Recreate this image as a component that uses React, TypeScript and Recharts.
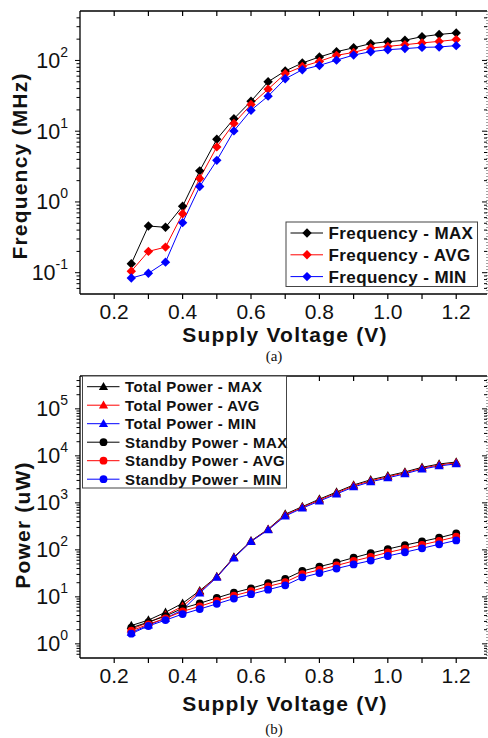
import React from 'react';
import { LineChart, Line, XAxis, YAxis } from 'recharts';

// supply voltage sweep (V)
const voltages = [0.25, 0.3, 0.35, 0.4, 0.45, 0.5, 0.55, 0.6, 0.65, 0.7, 0.75, 0.8, 0.85, 0.9, 0.95, 1.0, 1.05, 1.1, 1.15, 1.2];

// operating frequency (MHz)
const freqMax = [0.134, 0.457, 0.438, 0.87, 2.75, 7.7, 15, 26.5, 50, 71, 92, 112, 133, 151, 173, 184, 193, 217, 233, 245];
const freqAvg = [0.105, 0.2, 0.23, 0.68, 2.15, 6.0, 12.9, 23.8, 39.3, 65, 82, 97, 118, 130, 150, 158, 167, 177, 186, 197];
const freqMin = [0.084, 0.098, 0.141, 0.51, 1.65, 3.87, 10.1, 19.8, 31.3, 55, 74, 85, 101, 119, 133, 142, 147, 153, 155, 162];

// total power (uW)
const totalMax = [2.45, 3.2, 4.7, 7.3, 13.5, 27, 70, 155, 275, 575, 830, 1200, 1700, 2400, 3100, 3750, 4550, 5700, 6700, 7400];
const totalAvg = [2.05, 2.85, 4.1, 6.3, 12.8, 26.5, 68, 152, 270, 550, 800, 1150, 1620, 2300, 2950, 3600, 4350, 5450, 6400, 7100];
const totalMin = [1.75, 2.5, 3.5, 5.3, 12.0, 26, 67, 150, 265, 525, 770, 1090, 1540, 2180, 2800, 3400, 4150, 5200, 6100, 6750];

// standby power (uW)
const standbyMax = [2.2, 2.9, 3.9, 5.7, 7.3, 9.5, 12.3, 15.2, 19.5, 24, 35.5, 44, 54, 68, 85, 104, 126, 151, 181, 224];
const standbyAvg = [1.9, 2.6, 3.5, 4.9, 6.3, 8.2, 10.6, 13.2, 16.7, 20.5, 30.5, 37.5, 46.5, 58, 71, 88, 106, 128, 155, 190];
const standbyMin = [1.65, 2.4, 3.2, 4.3, 5.5, 7.1, 9.2, 11.4, 14.2, 17.6, 26, 32, 40, 49, 59, 74, 89, 108, 131, 159];

// axis ticks
const xTicks = [0.2, 0.3, 0.4, 0.5, 0.6, 0.7, 0.8, 0.9, 1.0, 1.1, 1.2];
const xTickLabels = ['0.2', '0.4', '0.6', '0.8', '1.0', '1.2'];
const freqDecades = [0.1, 1, 10, 100];
const powerDecades = [1, 10, 100, 1000, 10000, 100000];

const FONT = "'Liberation Sans', Arial, Helvetica, sans-serif";
const W = 488;
const H1 = 370;
const H2 = 368;
const X_DOMAIN: [number, number] = [0.1, 1.29];
const FREQ_DOMAIN: [number, number] = [0.05, 500];
const POWER_DOMAIN: [number, number] = [0.5, 500000];

type Shape = 'diamond' | 'triangle' | 'circle';
interface Series {
  key: string;
  name: string;
  color: string;
  shape: Shape;
  values: number[];
}

const freqSeries: Series[] = [
  { key: 'fmax', name: 'Frequency - MAX', color: '#000000', shape: 'diamond', values: freqMax },
  { key: 'favg', name: 'Frequency - AVG', color: '#ff0000', shape: 'diamond', values: freqAvg },
  { key: 'fmin', name: 'Frequency - MIN', color: '#0000ff', shape: 'diamond', values: freqMin },
];

const powerSeries: Series[] = [
  { key: 'tmax', name: 'Total Power - MAX', color: '#000000', shape: 'triangle', values: totalMax },
  { key: 'tavg', name: 'Total Power - AVG', color: '#ff0000', shape: 'triangle', values: totalAvg },
  { key: 'tmin', name: 'Total Power - MIN', color: '#0000ff', shape: 'triangle', values: totalMin },
  { key: 'smax', name: 'Standby Power - MAX', color: '#000000', shape: 'circle', values: standbyMax },
  { key: 'savg', name: 'Standby Power - AVG', color: '#ff0000', shape: 'circle', values: standbyAvg },
  { key: 'smin', name: 'Standby Power - MIN', color: '#0000ff', shape: 'circle', values: standbyMin },
];

const buildRows = (series: Series[]) =>
  voltages.map((v, i) => {
    const row: Record<string, number> = { v };
    series.forEach((s) => (row[s.key] = s.values[i]));
    return row;
  });

const freqRows = buildRows(freqSeries);
const powerRows = buildRows(powerSeries);

// log axis ticks: decades plus 2..9 minor ticks inside the domain
const logTicks = (domain: [number, number]) => {
  const out: number[] = [];
  const lo = Math.floor(Math.log10(domain[0]));
  const hi = Math.ceil(Math.log10(domain[1]));
  for (let e = lo; e <= hi; e++) {
    for (let k = 1; k <= 9; k++) {
      const t = k * Math.pow(10, e);
      if (t > domain[0] * 1.001 && t < domain[1] * 0.999) out.push(t);
    }
  }
  return out;
};

const isDecade = (v: number, decades: number[]) => decades.some((d) => Math.abs(v / d - 1) < 1e-6);

const Marker = ({ shape, cx, cy, color }: { shape: Shape; cx: number; cy: number; color: string }) => {
  if (shape === 'diamond') {
    return <polygon points={`${cx},${cy - 4.7} ${cx + 4.7},${cy} ${cx},${cy + 4.7} ${cx - 4.7},${cy}`} fill={color} />;
  }
  if (shape === 'triangle') {
    return <polygon points={`${cx},${cy - 4.8} ${cx + 4.6},${cy + 3.4} ${cx - 4.6},${cy + 3.4}`} fill={color} />;
  }
  return <circle cx={cx} cy={cy} r={3.9} fill={color} />;
};

const renderDot = (s: Series) => (props: any) => {
  const { cx, cy, index } = props;
  if (cx == null || cy == null) return <g key={`${s.key}-${index}`} />;
  return (
    <g key={`${s.key}-${index}`}>
      <Marker shape={s.shape} cx={cx} cy={cy} color={s.color} />
    </g>
  );
};

// bottom x ticks: outward marks, labels every 0.2
const BottomTick = (props: any) => {
  const { x, y, payload } = props;
  const v = payload.value as number;
  const label = xTickLabels.find((l) => Math.abs(parseFloat(l) - v) < 1e-6);
  return (
    <g>
      <line x1={x} y1={y} x2={x} y2={y + 5} stroke="#000" strokeWidth={1.2} />
      {label && (
        <text x={x} y={y + 25} textAnchor="middle" fontFamily={FONT} fontSize={21} fill="#111">
          {label}
        </text>
      )}
    </g>
  );
};

const TopTick = (props: any) => {
  const { x, y } = props;
  return <line x1={x} y1={y} x2={x} y2={y + 5} stroke="#000" strokeWidth={1.2} />;
};

const makeLeftTick = (decades: number[]) => (props: any) => {
  const { x, y, payload } = props;
  const v = payload.value as number;
  const major = isDecade(v, decades);
  const exp = Math.round(Math.log10(v));
  return (
    <g>
      <line x1={x - (major ? 5 : 3.5)} y1={y} x2={x} y2={y} stroke="#000" strokeWidth={1} />
      {major && (
        <text x={x - 12} y={y + 7.5} textAnchor="end" fontFamily={FONT} fontSize={21.5} fill="#111">
          <tspan>10</tspan>
          <tspan dy={-11} fontSize={14}>
            {exp}
          </tspan>
        </text>
      )}
    </g>
  );
};

const makeRightTick = (decades: number[]) => (props: any) => {
  const { x, y, payload } = props;
  const major = isDecade(payload.value as number, decades);
  return <line x1={x - (major ? 5 : 3)} y1={y} x2={x} y2={y} stroke="#000" strokeWidth={1} />;
};

const AXIS_LINE = { stroke: '#000', strokeWidth: 1.3 };

interface PanelProps {
  height: number;
  rows: Record<string, number>[];
  series: Series[];
  yDomain: [number, number];
  decades: number[];
  top: number;
  bottom: number;
}

// plot box: left edge at 80, right edge at 487, top/bottom from props
const Panel = ({ height, rows, series, yDomain, decades, top, bottom }: PanelProps) => {
  const yTicks = logTicks(yDomain);
  return (
    <LineChart width={W} height={height} data={rows} margin={{ top: top - 4, right: 0, bottom: bottom - 30, left: 30 }}>
      <XAxis
        dataKey="v"
        type="number"
        domain={X_DOMAIN}
        allowDataOverflow
        ticks={xTicks}
        interval={0}
        height={30}
        tickSize={0}
        tickMargin={0}
        tickLine={false}
        axisLine={AXIS_LINE}
        tick={BottomTick}
      />
      <XAxis
        xAxisId="top"
        orientation="top"
        dataKey="v"
        type="number"
        domain={X_DOMAIN}
        allowDataOverflow
        ticks={xTicks}
        interval={0}
        height={4}
        tickSize={0}
        tickMargin={0}
        tickLine={false}
        axisLine={AXIS_LINE}
        tick={TopTick}
      />
      <YAxis
        type="number"
        scale="log"
        domain={yDomain}
        allowDataOverflow
        ticks={yTicks}
        interval={0}
        width={50}
        tickSize={0}
        tickMargin={0}
        tickLine={false}
        axisLine={AXIS_LINE}
        tick={makeLeftTick(decades)}
      />
      <YAxis
        yAxisId="right"
        orientation="right"
        type="number"
        scale="log"
        domain={yDomain}
        allowDataOverflow
        ticks={yTicks}
        interval={0}
        width={1}
        tickSize={0}
        tickMargin={0}
        tickLine={false}
        axisLine={{ stroke: '#444', strokeWidth: 1, strokeDasharray: '1 2' }}
        tick={makeRightTick(decades)}
      />
      {series.map((s) => (
        <Line
          key={s.key}
          type="linear"
          dataKey={s.key}
          stroke={s.color}
          strokeWidth={1}
          dot={renderDot(s)}
          activeDot={false}
          isAnimationActive={false}
        />
      ))}
    </LineChart>
  );
};

interface LegendBoxProps {
  series: Series[];
  x: number;
  y: number;
  w: number;
  h: number;
  firstRow: number;
  rowStep: number;
  fontSize: number;
}

const LegendBox = ({ series, x, y, w, h, firstRow, rowStep, fontSize }: LegendBoxProps) => (
  <g>
    <rect x={x} y={y} width={w} height={h} fill="#fff" stroke="#444" strokeWidth={1} />
    {series.map((s, i) => {
      const ry = y + firstRow + i * rowStep;
      return (
        <g key={s.key}>
          <line x1={x + 4.5} y1={ry} x2={x + 37} y2={ry} stroke={s.color} strokeWidth={1} />
          <Marker shape={s.shape} cx={x + 21} cy={ry} color={s.color} />
          <text
            x={x + 42.5}
            y={ry + fontSize * 0.36}
            fontFamily={FONT}
            fontSize={fontSize}
            fontWeight="bold"
            letterSpacing={0.4}
            fill="#111"
          >
            {s.name}
          </text>
        </g>
      );
    })}
  </g>
);

const titleStyle = {
  fontFamily: FONT,
  fontWeight: 'bold' as const,
  fontSize: 21,
  letterSpacing: 1.2,
  fill: '#111',
};

export default function App() {
  return (
    <div style={{ position: 'absolute', left: 0, top: 0, width: W, height: H1 + H2, background: '#fff' }}>
      <div style={{ position: 'relative', width: W, height: H1 }}>
        <Panel height={H1} rows={freqRows} series={freqSeries} yDomain={FREQ_DOMAIN} decades={freqDecades} top={11} bottom={76} />
        <svg width={W} height={H1} style={{ position: 'absolute', left: 0, top: 0, pointerEvents: 'none' }}>
          <text x={27} y={166} transform="rotate(-90 27 166)" textAnchor="middle" {...titleStyle}>
            Frequency (MHz)
          </text>
          <text x={285} y={342} textAnchor="middle" {...titleStyle}>
            Supply Voltage (V)
          </text>
          <text x={274} y={361} textAnchor="middle" fontFamily="'Liberation Serif', 'Times New Roman', serif" fontSize={15} fill="#111">
            (a)
          </text>
          <LegendBox series={freqSeries} x={286} y={222} w={191.5} h={64.5} firstRow={11} rowStep={21.8} fontSize={17} />
        </svg>
      </div>
      <div style={{ position: 'relative', width: W, height: H2 }}>
        <Panel height={H2} rows={powerRows} series={powerSeries} yDomain={POWER_DOMAIN} decades={powerDecades} top={6} bottom={80} />
        <svg width={W} height={H2} style={{ position: 'absolute', left: 0, top: 0, pointerEvents: 'none' }}>
          <text x={30} y={155} transform="rotate(-90 30 155)" textAnchor="middle" {...titleStyle}>
            Power (uW)
          </text>
          <text x={285} y={341} textAnchor="middle" {...titleStyle}>
            Supply Voltage (V)
          </text>
          <text x={274} y={364} textAnchor="middle" fontFamily="'Liberation Serif', 'Times New Roman', serif" fontSize={15} fill="#111">
            (b)
          </text>
          <LegendBox series={powerSeries} x={82.5} y={6} w={204} h={112} firstRow={10.7} rowStep={18.5} fontSize={15} />
        </svg>
      </div>
    </div>
  );
}
